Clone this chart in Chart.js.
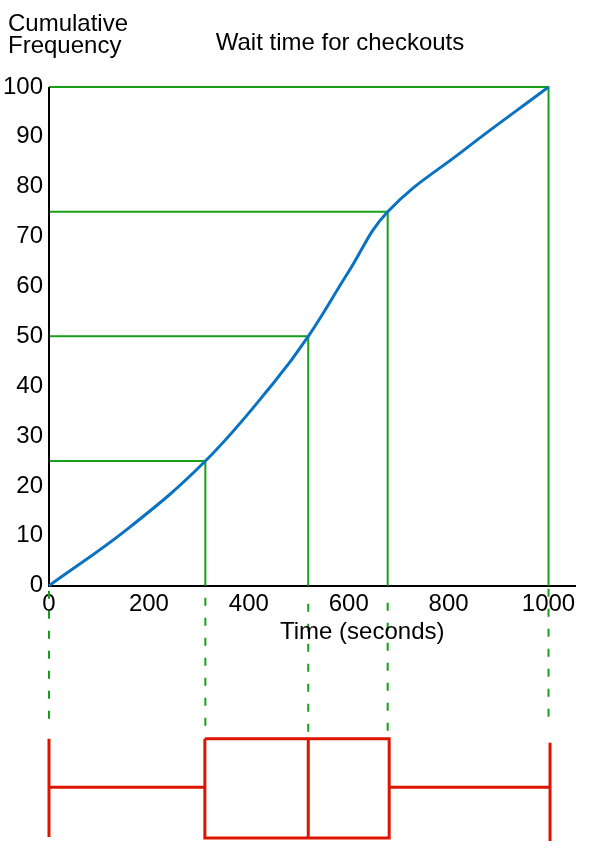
<!DOCTYPE html>
<html>
<head>
<meta charset="utf-8">
<title>Wait time for checkouts</title>
<script src="https://cdn.jsdelivr.net/npm/chart.js@4.4.1/dist/chart.umd.min.js"></script>
<style>
  html, body { margin: 0; padding: 0; background: #fff; }
  canvas { display: block; }
</style>
</head>
<body>
<canvas id="cfCanvas" width="590" height="864"></canvas>
<script>
// cumulative frequency curve
var timeValues = [0, 160, 313, 449, 519, 600, 678, 830, 1000];
var cumFreq    = [0, 11.6, 25, 40.6, 50, 63, 75, 87.3, 100];

// quartile guide lines: frequency level -> time where the curve reaches it
var quartileFreq = [25, 50, 75, 100];
var quartileTime = [313, 519, 678, 1000];

// box plot under the axis: min, Q1, median, Q3, max
var boxTime = [0, 312, 519, 681, 1003];
var boxLevels = [-30.7, -40.4, -50.6];   // box top, whisker, box bottom
var leftCap = [-30.7, -50.4];
var rightCap = [-31.5, -51.2];

// dashed drop lines from the x axis down to the box plot
var dropTime = [0, 313, 519, 678, 1000];
var dropTop = [-1, -2.4, -3.6, -3.4, -0.6];
var dropBottom = [-27.1, -28.5, -29.7, -29.5, -26.7];

var xTicks = [0, 200, 400, 600, 800, 1000];
var yTicks = [0, 10, 20, 30, 40, 50, 60, 70, 80, 90, 100];

var GREEN = '#17a017', BLUE = '#0a72c2', RED = '#dc1400';

function seg(points, color, width, dash) {
    return {
        data: points,
        borderColor: color,
        borderWidth: width,
        borderDash: dash || [],
        pointRadius: 0,
        tension: 0,
        fill: false,
        clip: false
    };
}

var datasets = [];

// the curve
datasets.push({
    data: timeValues.map(function (t, i) { return {x: t, y: cumFreq[i]}; }),
    borderColor: BLUE,
    borderWidth: 3,
    pointRadius: 0,
    tension: 0.4,
    fill: false,
    clip: false
});

// y axis line, only over 0..100
datasets.push(seg([{x: xTicks[0], y: yTicks[0]}, {x: xTicks[0], y: yTicks[yTicks.length - 1]}], '#000', 2));

// green quartile lines
quartileFreq.forEach(function (f, i) {
    datasets.push(seg([{x: 0, y: f}, {x: quartileTime[i], y: f}, {x: quartileTime[i], y: 0}], GREEN, 2));
});

// dashed drops
dropTime.forEach(function (t, i) {
    datasets.push(seg([{x: t, y: dropTop[i]}, {x: t, y: dropBottom[i]}], GREEN, 2, [8, 12]));
});

// box plot
var boxTop = boxLevels[0], whisker = boxLevels[1], boxBottom = boxLevels[2];
datasets.push(seg([{x: boxTime[0], y: leftCap[0]}, {x: boxTime[0], y: leftCap[1]}], RED, 3));
datasets.push(seg([{x: boxTime[0], y: whisker}, {x: boxTime[1], y: whisker}], RED, 3));
datasets.push(seg([{x: boxTime[1], y: boxTop}, {x: boxTime[3], y: boxTop}, {x: boxTime[3], y: boxBottom},
    {x: boxTime[1], y: boxBottom}, {x: boxTime[1], y: boxTop}], RED, 3));
datasets.push(seg([{x: boxTime[2], y: boxTop}, {x: boxTime[2], y: boxBottom}], RED, 3));
datasets.push(seg([{x: boxTime[3], y: whisker}, {x: boxTime[4], y: whisker}], RED, 3));
datasets.push(seg([{x: boxTime[4], y: rightCap[0]}, {x: boxTime[4], y: rightCap[1]}], RED, 3));

var textPlugin = {
    id: 'texts',
    afterDraw: function (chart) {
        var c = chart.ctx;
        c.save();
        c.fillStyle = '#000';
        c.font = '24px "Liberation Sans", Arial, sans-serif';
        c.textBaseline = 'alphabetic';
        c.textAlign = 'left';
        c.fillText('Cumulative', 8, 31);
        c.fillText('Frequency', 8, 53);
        c.fillText('Time (seconds)', 280, 639);
        c.textAlign = 'center';
        c.fillText('Wait time for checkouts', 340, 50);
        c.restore();
    }
};

Chart.defaults.font.family = '"Liberation Sans", Arial, sans-serif';
Chart.defaults.font.size = 24;
Chart.defaults.color = '#000';

var ctx = document.getElementById('cfCanvas').getContext('2d');
var chart = new Chart(ctx, {
    type: 'line',
    data: {datasets: datasets},
    options: {
        responsive: false,
        animation: false,
        layout: {padding: {top: 87, right: 15, bottom: 8, left: 0}},
        plugins: {legend: {display: false}, tooltip: {enabled: false}},
        scales: {
            x: {
                type: 'linear',
                min: 0,
                max: 1053,
                position: {y: 0},
                grid: {display: false, drawTicks: false},
                border: {display: true, color: '#000', width: 2},
                ticks: {
                    padding: 4, autoSkip: false, maxRotation: 0,
                    font: {size: 24, lineHeight: 1.2},
                    callback: function (v) { return String(v); }
                },
                afterBuildTicks: function (scale) {
                    scale.ticks = xTicks.map(function (v) { return {value: v}; });
                },
                afterFit: function (scale) { scale.height = 0; }
            },
            y: {
                type: 'linear',
                min: -51.7,
                max: 100,
                grid: {display: false, drawTicks: false},
                border: {display: false},
                ticks: {padding: 6, font: {size: 24}},
                afterBuildTicks: function (scale) {
                    scale.ticks = yTicks.map(function (v) { return {value: v}; });
                },
                afterFit: function (scale) { scale.width = 49; }
            }
        }
    },
    plugins: [textPlugin]
});
</script>
</body>
</html>
